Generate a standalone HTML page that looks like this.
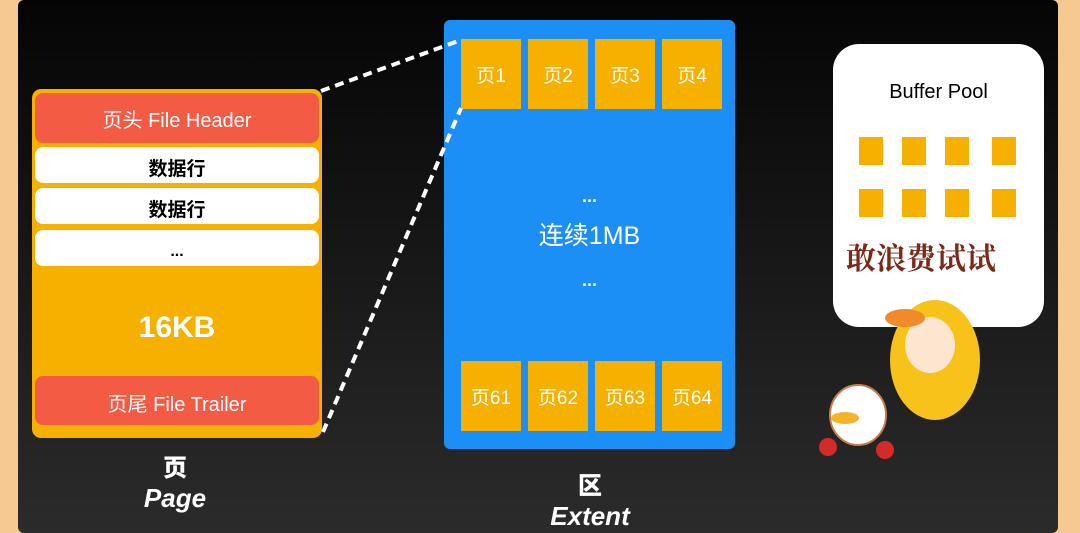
<!DOCTYPE html>
<html><head><meta charset="utf-8"><style>
body{margin:0;width:1080px;height:533px;overflow:hidden;background:#f6c992;font-family:"Liberation Sans","Noto Sans CJK SC",sans-serif}
.bg{position:absolute;left:18px;top:0;width:1040px;height:533px;background:linear-gradient(#050505,#2b2b2b);border-radius:6px}
.a{position:absolute;box-sizing:border-box;display:flex;align-items:center;justify-content:center}
</style></head><body>
<div class="bg"></div>
<div class="a" style="left:32px;top:89px;width:290px;height:349px;background:#f5b000;border-radius:9px"></div>
<div class="a" style="left:35px;top:93px;width:284px;height:50px;background:#f35b45;border-radius:8px;color:#fff;font-size:20px">页头 File Header</div>
<div class="a" style="left:35px;top:147px;width:284px;height:36px;background:#fff;border-radius:8px;font-size:19px;font-weight:bold;padding-top:4px">数据行</div>
<div class="a" style="left:35px;top:188px;width:284px;height:36px;background:#fff;border-radius:8px;font-size:19px;font-weight:bold;padding-top:4px">数据行</div>
<div class="a" style="left:35px;top:230px;width:284px;height:36px;background:#fff;border-radius:8px;font-size:16px;font-weight:bold;padding-top:8px">...</div>
<div class="a" style="left:35px;top:300px;width:284px;height:56px;color:#fff;font-size:30px;font-weight:bold">16KB</div>
<div class="a" style="left:35px;top:376px;width:284px;height:49px;background:#f35b45;border-radius:8px;color:#fff;font-size:20px;padding-top:4px">页尾 File Trailer</div>
<div class="a" style="left:100px;top:450px;width:150px;height:30px;color:#fff;font-size:24px;font-weight:900">页</div>
<div class="a" style="left:100px;top:482px;width:150px;height:32px;color:#fff;font-size:26px;font-weight:900;font-style:italic">Page</div>

<div class="a" style="left:444px;top:20px;width:291px;height:429px;background:#1b8ff5;border-radius:6px"></div>
<div class="a" style="left:461px;top:39px;width:60px;height:70px;background:#f5b000;color:#fff;font-size:19px">页1</div>
<div class="a" style="left:528px;top:39px;width:60px;height:70px;background:#f5b000;color:#fff;font-size:19px">页2</div>
<div class="a" style="left:595px;top:39px;width:60px;height:70px;background:#f5b000;color:#fff;font-size:19px">页3</div>
<div class="a" style="left:662px;top:39px;width:60px;height:70px;background:#f5b000;color:#fff;font-size:19px">页4</div>
<div class="a" style="left:461px;top:361px;width:60px;height:70px;background:#f5b000;color:#fff;font-size:19px">页61</div>
<div class="a" style="left:528px;top:361px;width:60px;height:70px;background:#f5b000;color:#fff;font-size:19px">页62</div>
<div class="a" style="left:595px;top:361px;width:60px;height:70px;background:#f5b000;color:#fff;font-size:19px">页63</div>
<div class="a" style="left:662px;top:361px;width:60px;height:70px;background:#f5b000;color:#fff;font-size:19px">页64</div>
<div class="a" style="left:444px;top:184px;width:291px;height:24px;color:#fff;font-size:18px;font-weight:bold">...</div>
<div class="a" style="left:444px;top:218px;width:291px;height:32px;color:#fff;font-size:25px">连续1MB</div>
<div class="a" style="left:444px;top:268px;width:291px;height:24px;color:#fff;font-size:18px;font-weight:bold">...</div>
<div class="a" style="left:515px;top:468px;width:150px;height:30px;color:#fff;font-size:24px;font-weight:900">区</div>
<div class="a" style="left:515px;top:500px;width:150px;height:32px;color:#fff;font-size:26px;font-weight:900;font-style:italic">Extent</div>

<div class="a" style="left:833px;top:44px;width:211px;height:283px;background:#fff;border-radius:26px"></div>
<div class="a" style="left:833px;top:78px;width:211px;height:28px;font-size:20px;color:#000">Buffer Pool</div>
<svg style="position:absolute;left:0;top:0" width="1080" height="533">
<g fill="#f5b000">
<rect x="859" y="137" width="24" height="28"/><rect x="902" y="137" width="24" height="28"/><rect x="945" y="137" width="24" height="28"/><rect x="992" y="137" width="24" height="28"/>
<rect x="859" y="189" width="24" height="28"/><rect x="902" y="189" width="24" height="28"/><rect x="945" y="189" width="24" height="28"/><rect x="992" y="189" width="24" height="28"/>
</g>
<g stroke="#fff" stroke-width="4" stroke-dasharray="9,6">
<line x1="321" y1="91" x2="461" y2="40"/><line x1="323" y1="432" x2="461" y2="108"/>
</g>
<ellipse cx="935" cy="360" rx="45" ry="60" fill="#f7c21a"/>
<ellipse cx="930" cy="345" rx="25" ry="28" fill="#fde6d0"/>
<ellipse cx="905" cy="318" rx="20" ry="9" fill="#f08a2a"/>
<ellipse cx="858" cy="415" rx="28" ry="30" fill="#fff" stroke="#c87b4c" stroke-width="2"/>
<ellipse cx="845" cy="418" rx="14" ry="6" fill="#f5b428"/>
<circle cx="828" cy="447" r="9" fill="#d32a2a"/><circle cx="885" cy="450" r="9" fill="#d32a2a"/>
</svg>
<div class="a" style="left:836px;top:236px;width:170px;height:40px;font-size:30px;font-weight:bold;color:#7a2a1a;font-family:'Noto Serif CJK SC',serif">敢浪费试试</div>
</body></html>
